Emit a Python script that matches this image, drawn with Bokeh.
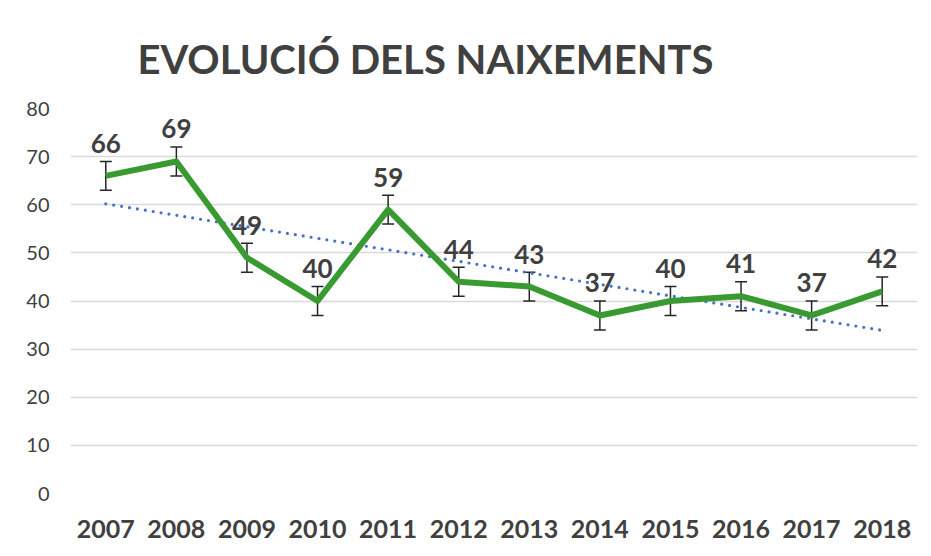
from bokeh.plotting import figure
from bokeh.models import ColumnDataSource, Range1d, FactorRange, FixedTicker, Whisker, TeeHead, Title
from bokeh.core.properties import value
from bokeh.embed import file_html
from bokeh.resources import INLINE

years = ["2007", "2008", "2009", "2010", "2011", "2012", "2013", "2014", "2015", "2016", "2017", "2018"]
births = [66, 69, 49, 40, 59, 44, 43, 37, 40, 41, 37, 42]
error = [3] * len(births)
trend_years = ["2007", "2018"]
trend_values = [60.2, 33.9]
y_ticks = [0, 10, 20, 30, 40, 50, 60, 70, 80]
title_text = "EVOLUCIÓ DELS NAIXEMENTS"

TEXT = "#404040"
FONT = "Lato"

src = ColumnDataSource(dict(
    year=years,
    births=births,
    lower=[b - e for b, e in zip(births, error)],
    upper=[b + e for b, e in zip(births, error)],
    label=[str(b) for b in births],
))

p = figure(width=931, height=556, output_backend="svg", toolbar_location=None,
           x_range=FactorRange(*years, range_padding=0), y_range=Range1d(0, 80),
           min_border_left=70, min_border_right=14, min_border_top=108, min_border_bottom=63)
p.outline_line_color = None
p.background_fill_color = "white"
p.border_fill_color = "white"

t = Title(text=title_text, align="left", offset=67, text_font=FONT, text_font_size="40px",
          text_font_style="bold", text_color=TEXT, standoff=51)
p.add_layout(t, "above")

p.yaxis.ticker = FixedTicker(ticks=y_ticks)
p.ygrid.ticker = FixedTicker(ticks=y_ticks)
p.ygrid.grid_line_color = "#D9D9D9"
p.ygrid.grid_line_width = 1.5
p.xgrid.grid_line_color = None
for ax in (p.xaxis, p.yaxis):
    ax.axis_line_color = None
    ax.major_tick_line_color = None
    ax.minor_tick_line_color = None
    ax.major_tick_in = 0
    ax.major_tick_out = 0
    ax.major_label_text_color = TEXT
    ax.major_label_text_font = FONT
p.yaxis.major_label_text_font_size = "20px"
p.yaxis.major_label_standoff = 21
p.xaxis.major_label_text_font_size = "25px"
p.xaxis.major_label_text_font_style = "bold"
p.xaxis.major_label_standoff = 26

p.line(trend_years, trend_values, line_color="#4472C4", line_width=3.2,
       line_dash="0 8", line_cap="round")

p.line("year", "births", source=src, line_color="#3A9A32", line_width=6, line_join="round")

w = Whisker(base="year", lower="lower", upper="upper", source=src,
            line_color="#262626", line_width=1.5,
            upper_head=TeeHead(size=12, line_color="#262626", line_width=1.5),
            lower_head=TeeHead(size=12, line_color="#262626", line_width=1.5))
p.add_layout(w)

p.text("year", "births", text="label", source=src, text_align="center", text_baseline="bottom",
       y_offset=-23, text_font=value(FONT), text_font_size="26px", text_font_style="bold",
       text_color=TEXT)

open("out.html", "w").write(file_html(p, INLINE))
